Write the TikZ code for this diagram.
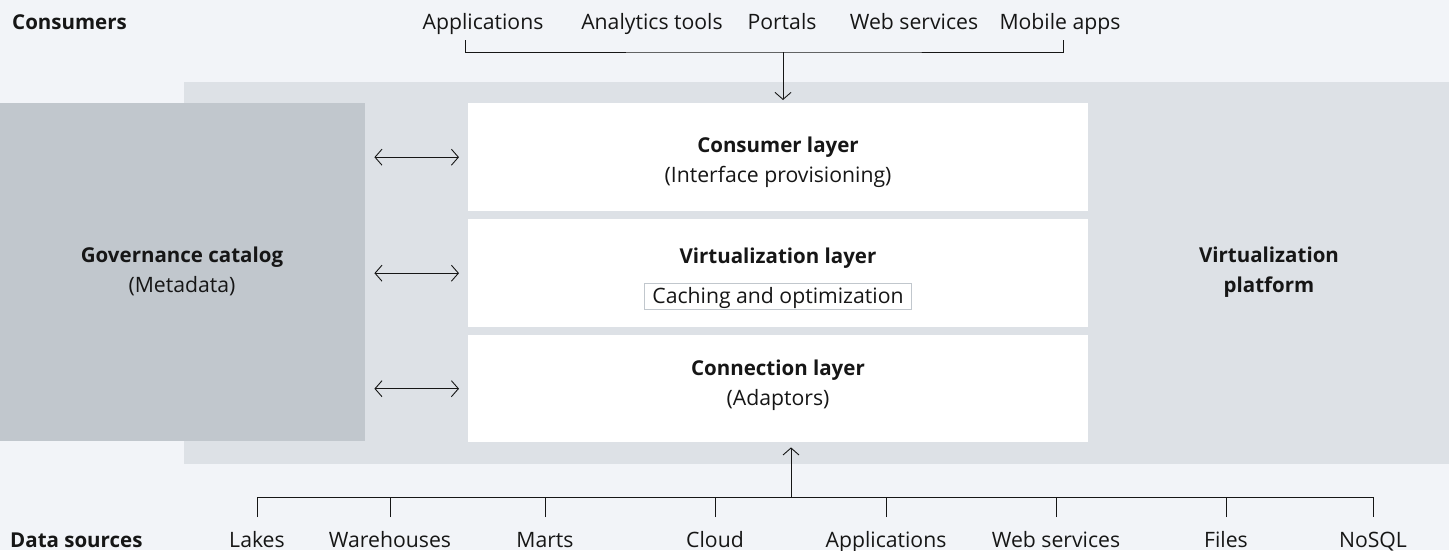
\documentclass[tikz,border=0pt]{standalone}
\usepackage{fontspec}
\setmainfont{Open Sans}
\usetikzlibrary{arrows.meta}
\definecolor{bgc}{HTML}{F2F4F8}
\definecolor{bandc}{HTML}{DDE1E6}
\definecolor{govc}{HTML}{C1C7CD}
\definecolor{txt}{HTML}{161616}
\tikzset{
  lbl/.style={text=txt, font=\fontsize{21.2}{30}\selectfont, inner sep=0pt, anchor=base},
  hdr/.style={lbl, font=\fontsize{20.5}{30}\selectfont\bfseries},
  area/.style={inner sep=0pt, anchor=north west, draw=none},
  conn/.style={draw=txt, line width=0.9pt},
  tip/.style={conn, -{Straight Barb[length=7pt, width=16pt, line width=0.9pt]}},
  dtip/.style={conn, {Straight Barb[length=7pt, width=16pt, line width=0.9pt]}-{Straight Barb[length=7pt, width=16pt, line width=0.9pt]}, shorten >=9pt, shorten <=9pt},
}
\begin{document}
\begin{tikzpicture}[x=1pt,y=-1pt]
\fill[bgc] (0,0) rectangle (1449,550);
\useasboundingbox (0,0) rectangle (1449,550);
% areas
\node[area, fill=bandc, minimum width=1265pt, minimum height=382pt] (band) at (184,82) {};
\node[area, fill=govc, minimum width=365pt, minimum height=338pt] (gov) at (0,103) {};
\node[area, fill=white, minimum width=620pt, minimum height=108pt] (cons) at (468,103) {};
\node[area, fill=white, minimum width=620pt, minimum height=108pt] (virt) at (468,219) {};
\node[area, fill=white, minimum width=620pt, minimum height=107pt] (conl) at (468,335) {};
% texts in areas
\node[hdr] (govt) at (182,262) {Governance catalog};
\node[lbl] (govs) at (182,292) {(Metadata)};
\node[hdr] (const) at (778,152) {Consumer layer};
\node[lbl] (conss) at (778,182) {(Interface provisioning)};
\node[hdr] (virtt) at (778,263) {Virtualization layer};
\node[draw=govc, line width=0.9pt, minimum width=267pt, minimum height=26pt, inner sep=0pt] (cache) at (778,296) {};
\node[lbl] (cachet) at (778,303) {Caching and optimization};
\node[hdr] (conlt) at (778,375) {Connection layer};
\node[lbl] (conls) at (778,405) {(Adaptors)};
\node[hdr] (plat1) at (1269,262) {Virtualization};
\node[hdr] (plat2) at (1269,292) {platform};
% side labels
\node[hdr, anchor=base west] (consumers) at (12,29) {Consumers};
\node[hdr, anchor=base west] (sources) at (10,547) {Data sources};
% consumers
\node[lbl] (c1) at (483,29) {Applications};
\node[lbl] (c2) at (652,29) {Analytics tools};
\node[lbl] (c3) at (782,29) {Portals};
\node[lbl] (c4) at (914,29) {Web services};
\node[lbl] (c5) at (1060,29) {Mobile apps};
\coordinate (tl) at (465,40);
\coordinate (tr) at (1063,40);
\coordinate (tm) at (783,52);
\draw[conn] (tl) |- (tm) -| (tr);
\draw[tip, shorten >=3pt] (tm) -- (cons.north -| tm);
% sources
\coordinate (bm) at (791,497);
\foreach \x/\t/\n in {257/Lakes/s1, 390/Warehouses/s2, 545/Marts/s3, 715/Cloud/s4, 886/Applications/s5, 1056/Web services/s6, 1226/Files/s7, 1373/NoSQL/s8}{
  \node[lbl] (\n) at (\x,547) {\t};
  \coordinate (\n top) at (\x,517);
}
\draw[conn] (s1top) -- (s1top |- bm) -- (s8top |- bm) -- (s8top);
\foreach \n in {s2,s3,s4,s5,s6,s7}{
  \draw[conn] (\n top) -- (\n top |- bm);
}
\draw[tip, shorten >=5pt] (bm) -- (conl.south -| bm);
% governance arrows
\draw[dtip] (gov.east |- cons.west) -- (cons.west);
\draw[dtip] (gov.east |- virt.west) -- (virt.west);
\draw[dtip] (gov.east |- conl.west) -- (conl.west);
\end{tikzpicture}
\end{document}
